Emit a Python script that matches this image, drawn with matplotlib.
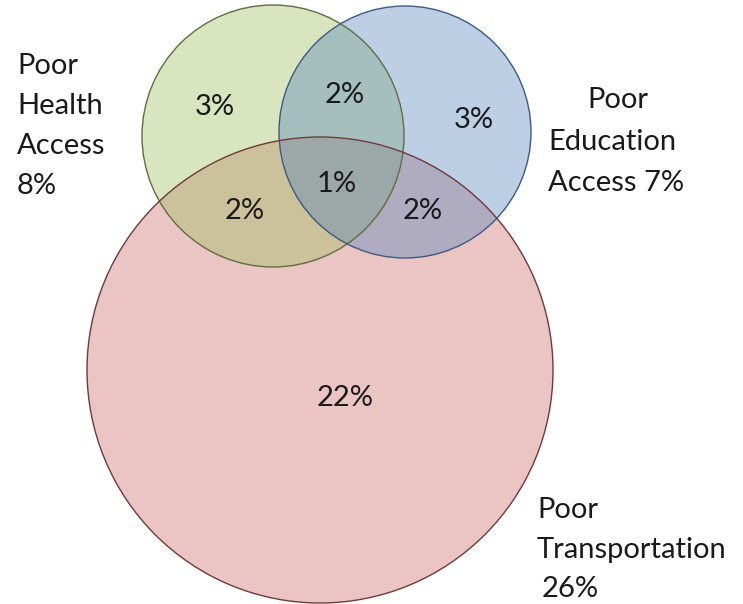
import matplotlib
matplotlib.use("Agg")
import matplotlib.pyplot as plt
from matplotlib.patches import Circle

# Share of respondents in each group and in each overlap region
set_names = ["Poor\nHealth\nAccess", "Poor\nEducation\nAccess", "Poor\nTransportation"]
set_totals = [8, 7, 26]
only_values = [3, 3, 22]          # health only, education only, transportation only
pair_values = [2, 2, 2]           # health&education, health&transport, education&transport
triple_value = 1

face_colors = ["#9BBB59", "#4F81BD", "#C0504D"]
face_alpha = [0.38, 0.38, 0.33]
edge_colors = ["#5E6E42", "#3D5A84", "#6E3B3A"]

# circle layout in pixel space (y grows downward)
centers = [(273, 136), (405, 132), (320, 370)]
radii = [131, 126, 233]

fig = plt.figure(figsize=(7.43, 6.04), dpi=100)
ax = fig.add_axes([0, 0, 1, 1])
ax.set_xlim(0, 743)
ax.set_ylim(604, 0)
ax.set_aspect("equal")
ax.axis("off")

# big transportation circle goes underneath, then health, then education
for i in (2, 0, 1):
    ax.add_patch(Circle(centers[i], radii[i], facecolor=face_colors[i],
                        alpha=face_alpha[i], edgecolor="none"))
for c, r, ec in zip(centers, radii, edge_colors):
    ax.add_patch(Circle(c, r, facecolor="none", edgecolor=ec, linewidth=1.0))

font = dict(family="Lato", fontsize=21, color="#1a1a1a")

# region values
ax.text(215, 107, f"{only_values[0]}%", ha="center", va="center", **font)
ax.text(474, 120, f"{only_values[1]}%", ha="center", va="center", **font)
ax.text(345, 398, f"{only_values[2]}%", ha="center", va="center", **font)
ax.text(345, 95, f"{pair_values[0]}%", ha="center", va="center", **font)
ax.text(245, 211, f"{pair_values[1]}%", ha="center", va="center", **font)
ax.text(423, 211, f"{pair_values[2]}%", ha="center", va="center", **font)
ax.text(337, 184, f"{triple_value}%", ha="center", va="center", **font)

# set labels
health = set_names[0].split("\n") + [f"{set_totals[0]}%"]
for k, line in enumerate(health):
    ax.text(17, 66 + 40 * k, line, ha="left", va="center", **font)
edu = set_names[1].split("\n")
ax.text(618, 100, edu[0], ha="center", va="center", **font)
ax.text(548, 142, edu[1], ha="left", va="center", **font)
ax.text(548, 183, f"{edu[2]} {set_totals[1]}%", ha="left", va="center", **font)
trans = set_names[2].split("\n")
ax.text(537, 510, trans[0], ha="left", va="center", **font)
ax.text(537, 550, trans[1], ha="left", va="center", **font)
ax.text(542, 589, f"{set_totals[2]}%", ha="left", va="center", **font)

fig.savefig("out.png", dpi=100, facecolor="white")
